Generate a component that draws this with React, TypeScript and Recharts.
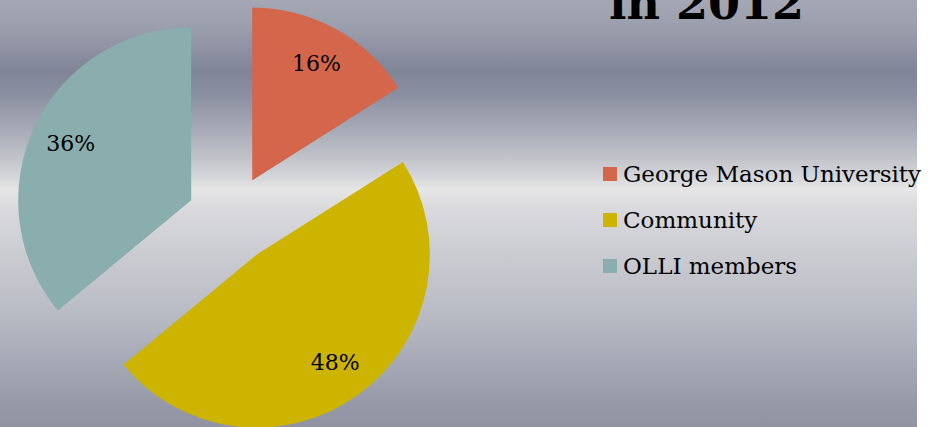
import React from 'react';
import { PieChart, Pie, Cell, Legend } from 'recharts';

const categories = ['George Mason University', 'Community', 'OLLI members'];
const values = [16, 48, 36];
const colors = ['#d3664b', '#ccb400', '#8aadad'];
const titleText = 'in 2012';

const data = categories.map((name, i) => ({ name, value: values[i] }));

const W = 917;
const H = 427;
const baseCx = 231;
const baseCy = 219;
const radius = 173;
const explode = 44;
const FONT = '"DejaVu Serif", Georgia, serif';

const total = values.reduce((a, b) => a + b, 0);
const offsets = (() => {
  let acc = 0;
  return values.map((v) => {
    const mid = ((acc + v / 2) / total) * 2 * Math.PI;
    acc += v;
    return { dx: explode * Math.sin(mid), dy: -explode * Math.cos(mid) };
  });
})();

const RAD = Math.PI / 180;
const makeLabel = (only: number) => (props: any) => {
  if (props.index !== only) return <g />;
  const r = props.outerRadius * 0.77;
  const x = props.cx + r * Math.cos(-props.midAngle * RAD);
  const y = props.cy + r * Math.sin(-props.midAngle * RAD);
  return (
    <text x={x} y={y} textAnchor="middle" dominantBaseline="central" fill="#000" fontFamily={FONT} fontSize={22}>
      {`${Math.round(props.percent * 100)}%`}
    </text>
  );
};

const LegendContent = () => (
  <div style={{ fontFamily: FONT, fontSize: 23, color: '#000' }}>
    {categories.map((c, i) => (
      <div key={c} style={{ display: 'flex', alignItems: 'center', height: 46, whiteSpace: 'nowrap' }}>
        <span style={{ display: 'inline-block', width: 14, height: 14, background: colors[i], marginRight: 6 }} />
        <span>{c}</span>
      </div>
    ))}
  </div>
);

export default function App() {
  return (
    <div
      style={{
        position: 'absolute',
        left: 0,
        top: 0,
        width: W,
        height: H,
        overflow: 'visible',
        background:
          'linear-gradient(to bottom, #a5a8b4 0px, #9a9dab 30px, #7f8497 72px, #8b90a1 95px, #a3a6b3 125px, #bfc1c8 155px, #d6d7db 178px, #e6e6e6 190px, #d9d9dd 210px, #c9cad0 260px, #bcbec7 305px, #a7aab6 360px, #9599a7 405px, #8f93a2 427px)',
      }}
    >
      <div
        style={{
          position: 'absolute',
          left: 609,
          top: -24,
          fontFamily: FONT,
          fontWeight: 'bold',
          fontSize: 46,
          lineHeight: '54px',
          color: '#000',
          whiteSpace: 'nowrap',
        }}
      >
        {titleText}
      </div>
      <PieChart
        width={W}
        height={H}
        margin={{ top: 0, right: 0, bottom: 0, left: 0 }}
        style={{ position: 'absolute', left: 0, top: 0 }}
      >
        {data.map((_, k) => (
          <Pie
            key={k}
            data={data}
            dataKey="value"
            nameKey="name"
            cx={baseCx + offsets[k].dx}
            cy={baseCy + offsets[k].dy}
            outerRadius={radius}
            startAngle={90}
            endAngle={-270}
            stroke="none"
            isAnimationActive={false}
            label={makeLabel(k)}
            labelLine={false}
          >
            {data.map((d, i) => (
              <Cell key={d.name} fill={i === k ? colors[i] : 'none'} stroke="none" />
            ))}
          </Pie>
        ))}
        <Legend
          layout="vertical"
          content={<LegendContent />}
          wrapperStyle={{ position: 'absolute', left: 603, top: 151, width: 340 }}
        />
      </PieChart>
    </div>
  );
}
